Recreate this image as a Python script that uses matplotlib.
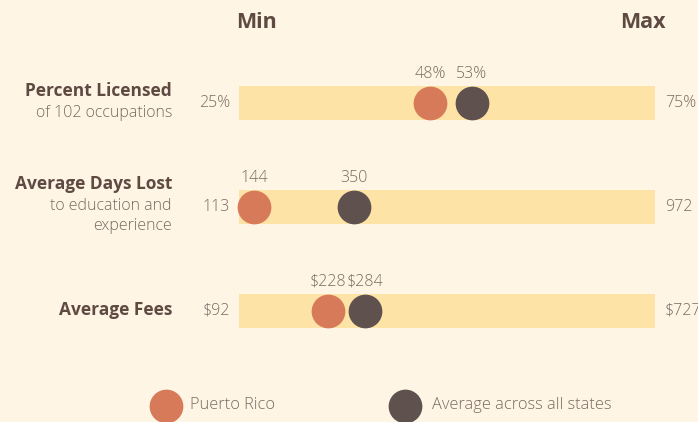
import matplotlib
matplotlib.use("Agg")
import matplotlib.pyplot as plt

# ---- data ----
row_titles = ["Percent Licensed", "Average Days Lost", "Average Fees"]
row_subtitles = [["of 102 occupations"], ["to education and", "experience"], []]
row_min = [25, 113, 92]
row_max = [75, 972, 727]
min_labels = ["25%", "113", "$92"]
max_labels = ["75%", "972", "$727"]
puerto_rico = [48, 144, 228]
pr_labels = ["48%", "144", "$228"]
state_avg = [53, 350, 284]
avg_labels = ["53%", "350", "$284"]
series_names = ["Puerto Rico", "Average across all states"]

# ---- style ----
BG = "#fef5e4"
BAR = "#fde3a5"
ORANGE = "#d77a5a"
DARK = "#5e514e"
TITLE_C = "#5e4a42"
TEXT_C = "#7a6a64"
FONT = "Open Sans"
SMALL = 11.5

W, H = 698, 422
fig = plt.figure(figsize=(W / 100, H / 100), dpi=100, facecolor=BG)

def fx(x):
    return x / W

def fy(y):
    return 1 - y / H

bar_left, bar_right = 239, 655
bar_h = 34
row_centers = [103, 207, 311]
circle_s = 590

fig.text(fx(256), fy(22), "Min", ha="center", va="center", fontsize=15.5,
         fontweight="bold", color=TITLE_C, family=FONT)
fig.text(fx(643), fy(22), "Max", ha="center", va="center", fontsize=15.5,
         fontweight="bold", color=TITLE_C, family=FONT)

for i in range(3):
    yc = row_centers[i]
    ax = fig.add_axes([fx(bar_left), fy(yc + bar_h / 2),
                       fx(bar_right - bar_left), bar_h / H])
    ax.set_xlim(row_min[i], row_max[i])
    ax.set_ylim(-1, 1)
    ax.set_facecolor(BAR)
    ax.axis("off")
    ax.axvspan(row_min[i], row_max[i], color=BAR, zorder=0)
    ax.scatter([puerto_rico[i]], [0], s=circle_s, color=ORANGE, zorder=3,
               clip_on=False, linewidths=0)
    ax.scatter([state_avg[i]], [0], s=circle_s, color=DARK, zorder=3,
               clip_on=False, linewidths=0)
    ax.text(puerto_rico[i], 1.72, pr_labels[i], ha="center", va="center",
            fontsize=SMALL, color=TEXT_C, family=FONT, fontweight="light")
    ax.text(state_avg[i], 1.72, avg_labels[i], ha="center", va="center",
            fontsize=SMALL, color=TEXT_C, family=FONT, fontweight="light")

    fig.text(fx(230), fy(yc), min_labels[i], ha="right", va="center",
             fontsize=SMALL, color=TEXT_C, family=FONT, fontweight="light")
    fig.text(fx(665), fy(yc), max_labels[i], ha="left", va="center",
             fontsize=SMALL, color=TEXT_C, family=FONT, fontweight="light")

    n_sub = len(row_subtitles[i])
    ty = yc - 1 - 11 * n_sub
    fig.text(fx(172), fy(ty), row_titles[i], ha="right", va="center",
             fontsize=12.5, fontweight="bold", color=TITLE_C, family=FONT)
    for k, sub in enumerate(row_subtitles[i]):
        fig.text(fx(172), fy(ty + 22 + 20 * k), sub, ha="right", va="center",
                 fontsize=SMALL, color=TEXT_C, family=FONT, fontweight="light")

# legend
leg_ax = fig.add_axes([0, 0, 1, 1])
leg_ax.set_xlim(0, W)
leg_ax.set_ylim(H, 0)
leg_ax.axis("off")
leg_ax.patch.set_alpha(0)
leg_x = [166, 405]
leg_tx = [190, 432]
for c, lx, tx, name in zip([ORANGE, DARK], leg_x, leg_tx, series_names):
    leg_ax.scatter([lx], [406], s=circle_s, color=c, clip_on=False, linewidths=0)
    leg_ax.text(tx, 405, name, ha="left", va="center", fontsize=SMALL + 0.3,
                color=TEXT_C, family=FONT, fontweight="light")

fig.savefig("out.png", dpi=100, facecolor=BG)
